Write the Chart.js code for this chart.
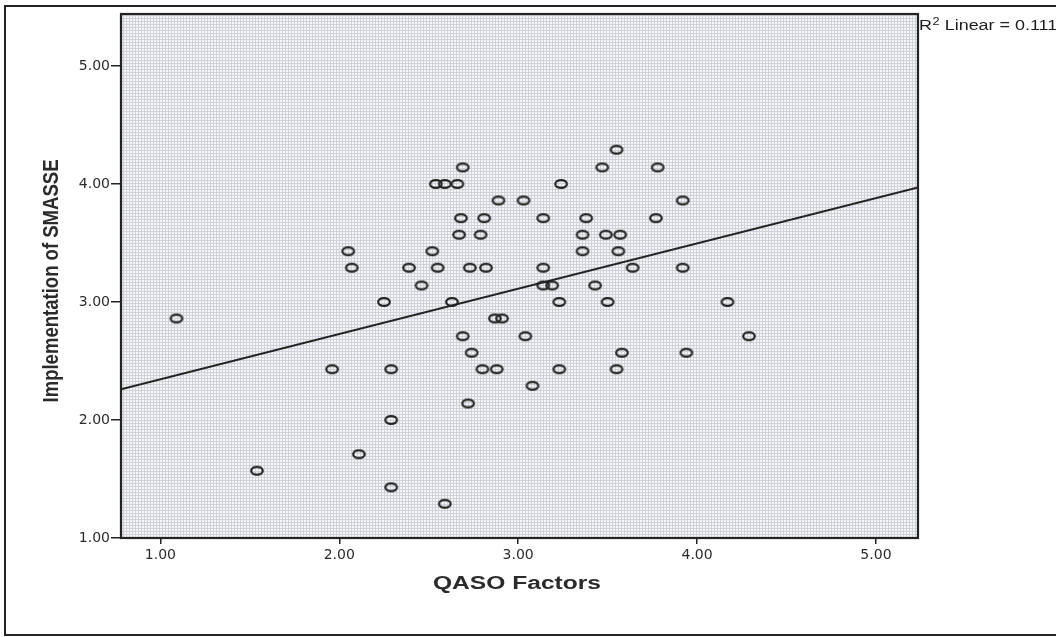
<!DOCTYPE html>
<html>
<head>
<meta charset="utf-8">
<script src="https://cdn.jsdelivr.net/npm/chart.js@4.4.1/dist/chart.umd.min.js"></script>
<style>
  html, body { margin: 0; padding: 0; background: #fff; }
  #wrap { width: 1056px; height: 637px; position: relative; }
</style>
</head>
<body>
<div id="wrap"><canvas id="chart"></canvas></div>
<script>
// QASO Factors (x) vs Implementation of SMASSE (y)
var qasoX = [3.55, 2.69, 3.47, 3.78, 2.54, 2.59, 2.66, 3.24, 2.89, 3.03, 3.92,
    2.68, 2.81, 3.14, 3.38, 3.77, 2.67, 2.79, 3.36, 3.49, 3.57, 2.05, 2.52, 3.36,
    3.56, 2.07, 2.39, 2.55, 2.73, 2.82, 3.14, 3.64, 3.92, 2.46, 3.14, 3.19, 3.43,
    2.25, 2.63, 3.23, 3.50, 4.17, 1.09, 2.87, 2.91, 2.69, 3.04, 4.29, 2.74, 3.58,
    3.94, 1.96, 2.29, 2.80, 2.88, 3.23, 3.55, 3.08, 2.72, 2.29, 2.11, 1.54, 2.29, 2.59];
var smasseY = [4.29, 4.14, 4.14, 4.14, 4.00, 4.00, 4.00, 4.00, 3.86, 3.86, 3.86,
    3.71, 3.71, 3.71, 3.71, 3.71, 3.57, 3.57, 3.57, 3.57, 3.57, 3.43, 3.43, 3.43,
    3.43, 3.29, 3.29, 3.29, 3.29, 3.29, 3.29, 3.29, 3.29, 3.14, 3.14, 3.14, 3.14,
    3.00, 3.00, 3.00, 3.00, 3.00, 2.86, 2.86, 2.86, 2.71, 2.71, 2.71, 2.57, 2.57,
    2.57, 2.43, 2.43, 2.43, 2.43, 2.43, 2.43, 2.29, 2.14, 2.00, 1.71, 1.57, 1.43, 1.29];

// fit line end points (R2 linear = 0.111)
var fitX = [0.78, 5.235];
var fitY = [2.26, 3.97];

var xTicks = [1, 2, 3, 4, 5];
var yTicks = [1, 2, 3, 4, 5];
var xRange = [0.78, 5.235];
var yRange = [1, 5.44];

var xTitle = 'QASO Factors';
var yTitle = 'Implementation of SMASSE';
var fitLabel = 'Linear = 0.111';

var ink = '#232323';

function makePoints(xs, ys) {
    var out = [];
    for (var i = 0; i < xs.length; i++) out.push({ x: xs[i], y: ys[i] });
    return out;
}

// open ellipse marker, like the SPSS one
function ringMarker() {
    var c = document.createElement('canvas');
    c.width = 16; c.height = 12;
    var g = c.getContext('2d');
    g.strokeStyle = ink;
    g.lineWidth = 2.2;
    g.beginPath();
    g.ellipse(8, 6, 5.8, 3.9, 0, 0, Math.PI * 2);
    g.stroke();
    return c;
}

function gridPattern(ctx) {
    var t = document.createElement('canvas');
    t.width = 3; t.height = 3;
    var g = t.getContext('2d');
    g.fillStyle = '#f5f6f8';
    g.fillRect(0, 0, 3, 3);
    g.fillStyle = '#cfd2d9';
    g.fillRect(0, 0, 3, 1);
    g.fillRect(0, 0, 1, 3);
    return ctx.createPattern(t, 'repeat');
}

// text squeezed/stretched to the width it has in the picture
function fittedText(ctx, text, cx, cy, font, width, angle) {
    ctx.save();
    ctx.font = font;
    var w = ctx.measureText(text).width;
    ctx.translate(cx, cy);
    if (angle) ctx.rotate(angle);
    ctx.scale(width / w, 1);
    ctx.textAlign = 'center';
    ctx.textBaseline = 'middle';
    ctx.fillStyle = '#2b2b2b';
    ctx.fillText(text, 0, 0);
    ctx.restore();
}

var spssLook = {
    id: 'spssLook',
    beforeDraw: function(chart) {
        var ctx = chart.ctx, a = chart.chartArea;
        ctx.save();
        ctx.fillStyle = '#fff';
        ctx.fillRect(0, 0, chart.width, chart.height);
        ctx.fillStyle = gridPattern(ctx);
        ctx.fillRect(a.left, a.top, a.right - a.left, a.bottom - a.top);
        ctx.restore();
    },
    afterDraw: function(chart) {
        var ctx = chart.ctx, a = chart.chartArea;
        ctx.save();
        ctx.strokeStyle = ink;
        ctx.lineWidth = 2.2;
        ctx.strokeRect(a.left, a.top, a.right - a.left, a.bottom - a.top);
        // outer page frame
        ctx.lineWidth = 2;
        ctx.beginPath();
        ctx.moveTo(chart.width, 6);
        ctx.lineTo(5, 6);
        ctx.lineTo(5, 635);
        ctx.lineTo(chart.width, 635);
        ctx.stroke();
        ctx.restore();

        fittedText(ctx, yTitle, 52, 281, 'bold 22px "Liberation Sans Narrow", "Liberation Sans", sans-serif', 243, -Math.PI / 2);
        fittedText(ctx, xTitle, 517, 584, 'bold 18px "Liberation Sans", Arial, sans-serif', 168, 0);

        // R2 label top right
        ctx.save();
        ctx.fillStyle = '#1e1e1e';
        ctx.textBaseline = 'alphabetic';
        ctx.textAlign = 'left';
        ctx.translate(a.right + 1, 30);
        ctx.scale(1.28, 1);
        ctx.font = '14px "Liberation Sans", Arial, sans-serif';
        ctx.fillText('R', 0, 0);
        var rw = ctx.measureText('R').width;
        ctx.font = '10px "Liberation Sans", Arial, sans-serif';
        ctx.fillText('2', rw + 0.5, -5);
        ctx.font = '14px "Liberation Sans", Arial, sans-serif';
        ctx.fillText(fitLabel, rw + 10, 0);
        ctx.restore();
    }
};

var tickFont = { family: '"DejaVu Sans", sans-serif', size: 14 };

new Chart(document.getElementById('chart'), {
    type: 'scatter',
    data: {
        datasets: [{
            label: 'SMASSE',
            data: makePoints(qasoX, smasseY),
            pointStyle: ringMarker(),
            pointRadius: 7,
            pointHoverRadius: 7
        }, {
            type: 'line',
            label: 'Fit',
            data: makePoints(fitX, fitY),
            showLine: true,
            borderColor: ink,
            borderWidth: 2,
            pointRadius: 0,
            fill: false
        }]
    },
    options: {
        responsive: true,
        maintainAspectRatio: false,
        animation: false,
        layout: { padding: { top: 14, right: 138, bottom: 0, left: 0 } },
        plugins: {
            legend: { display: false },
            tooltip: { enabled: false }
        },
        scales: {
            x: {
                type: 'linear',
                min: xRange[0],
                max: xRange[1],
                afterBuildTicks: function(s) { s.ticks = xTicks.map(function(v) { return { value: v }; }); },
                afterFit: function(s) { s.height = 99; },
                border: { display: false },
                grid: { drawOnChartArea: false, drawTicks: true, tickLength: 6, color: ink, lineWidth: 1.5 },
                ticks: {
                    color: '#2b2b2b',
                    font: tickFont,
                    padding: 3,
                    maxRotation: 0,
                    callback: function(v) { return v.toFixed(2); }
                }
            },
            y: {
                type: 'linear',
                min: yRange[0],
                max: yRange[1],
                afterBuildTicks: function(s) { s.ticks = yTicks.map(function(v) { return { value: v }; }); },
                afterFit: function(s) { s.width = 121; },
                border: { display: false },
                grid: { drawOnChartArea: false, drawTicks: true, tickLength: 10, color: ink, lineWidth: 1.5 },
                ticks: {
                    color: '#2b2b2b',
                    font: tickFont,
                    padding: 1,
                    callback: function(v) { return v.toFixed(2); }
                }
            }
        }
    },
    plugins: [spssLook]
});
</script>
</body>
</html>
